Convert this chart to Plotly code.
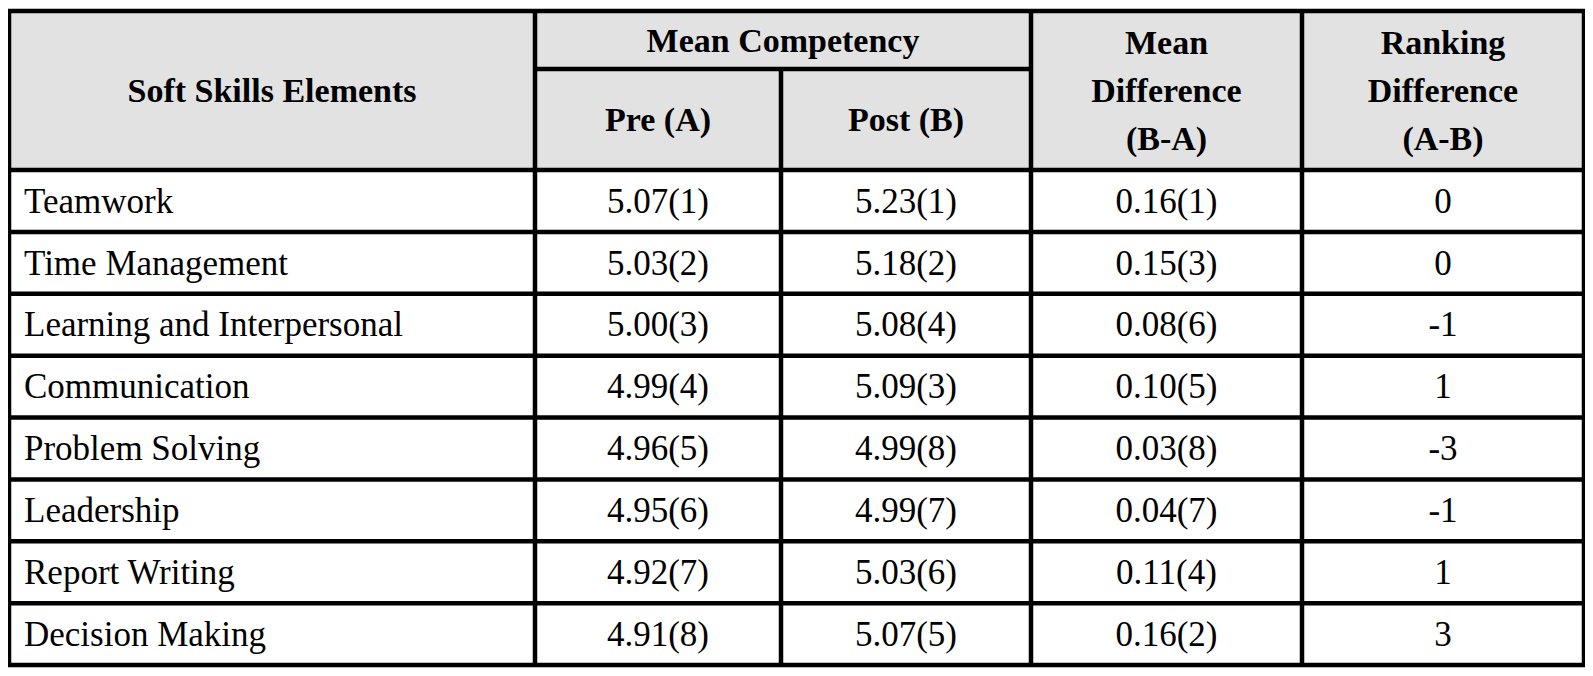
import plotly.graph_objects as go

# table data
skills = ["Teamwork", "Time Management", "Learning and Interpersonal", "Communication",
          "Problem Solving", "Leadership", "Report Writing", "Decision Making"]
pre_mean = [5.07, 5.03, 5.00, 4.99, 4.96, 4.95, 4.92, 4.91]
pre_rank = [1, 2, 3, 4, 5, 6, 7, 8]
post_mean = [5.23, 5.18, 5.08, 5.09, 4.99, 4.99, 5.03, 5.07]
post_rank = [1, 2, 4, 3, 8, 7, 6, 5]
diff_mean = [0.16, 0.15, 0.08, 0.10, 0.03, 0.04, 0.11, 0.16]
diff_rank = [1, 3, 6, 5, 8, 7, 4, 2]
rank_diff = [0, 0, -1, 1, -3, -1, 1, 3]

# layout of the grid (in page pixels)
W, H = 1593, 676
PAD = 8  # default body margin of the html page
DY = 3   # text sits a little below the cell middle
col_edges = [9, 535, 781, 1031, 1302, 1584]
top, head_mid, head_bot, bottom = 11, 69, 170, 665
row_h = (bottom - head_bot) / len(skills)
row_edges = [head_bot + i * row_h for i in range(len(skills) + 1)]
row_mid = [(row_edges[i] + row_edges[i + 1]) / 2 + DY for i in range(len(skills))]
col_mid = [(col_edges[i] + col_edges[i + 1]) / 2 for i in range(len(col_edges) - 1)]

FONT = "Liberation Serif"
body_font = dict(family=FONT, size=35, color="black")
head_font = dict(family=FONT, size=34, color="black")
LW = 4.5
line_gap = 48

fig = go.Figure()

# header background
shapes = [dict(type="rect", x0=col_edges[0], x1=col_edges[-1], y0=top, y1=head_bot,
               fillcolor="#e2e2e2", line_width=0, layer="below")]
# horizontal rules
for y in [top] + row_edges:
    shapes.append(dict(type="line", x0=col_edges[0] - LW / 2, x1=col_edges[-1] + LW / 2,
                       y0=y, y1=y, line=dict(color="black", width=LW)))
shapes.append(dict(type="line", x0=col_edges[1], x1=col_edges[3], y0=head_mid, y1=head_mid,
                   line=dict(color="black", width=LW)))
# vertical rules
for i, x in enumerate(col_edges):
    y0 = head_mid if i == 2 else top
    shapes.append(dict(type="line", x0=x, x1=x, y0=y0, y1=bottom,
                       line=dict(color="black", width=LW)))


def text_trace(xs, ys, labels, font, pos="middle center"):
    return go.Scatter(x=xs, y=ys, text=labels, mode="text", textposition=pos,
                      textfont=font, hoverinfo="skip", showlegend=False)


# header texts
head_c = (top + head_bot) / 2 + DY
fig.add_trace(text_trace([col_mid[0]], [head_c], ["<b>Soft Skills Elements</b>"], head_font))
fig.add_trace(text_trace([(col_edges[1] + col_edges[3]) / 2], [(top + head_mid) / 2 + DY],
                         ["<b>Mean Competency</b>"], head_font))
fig.add_trace(text_trace(col_mid[1:3], [(head_mid + head_bot) / 2 + DY] * 2,
                         ["<b>Pre (A)</b>", "<b>Post (B)</b>"], head_font))
for ci, lines in [(3, ["Mean", "Difference", "(B-A)"]), (4, ["Ranking", "Difference", "(A-B)"])]:
    ys = [head_c + (k - 1) * line_gap for k in range(3)]
    fig.add_trace(text_trace([col_mid[ci]] * 3, ys, ["<b>%s</b>" % s for s in lines], head_font))

# body texts
fig.add_trace(text_trace([col_edges[0] + 15] * len(skills), row_mid, skills, body_font, "middle right"))
fig.add_trace(text_trace([col_mid[1]] * len(skills), row_mid,
                         ["%.2f(%d)" % (v, r) for v, r in zip(pre_mean, pre_rank)], body_font))
fig.add_trace(text_trace([col_mid[2]] * len(skills), row_mid,
                         ["%.2f(%d)" % (v, r) for v, r in zip(post_mean, post_rank)], body_font))
fig.add_trace(text_trace([col_mid[3]] * len(skills), row_mid,
                         ["%.2f(%d)" % (v, r) for v, r in zip(diff_mean, diff_rank)], body_font))
fig.add_trace(text_trace([col_mid[4]] * len(skills), row_mid,
                         [str(v) for v in rank_diff], body_font))

# the figure sits inside the page margin, so the axes map straight to page pixels
fig.update_layout(width=W - 2 * PAD, height=H - 2 * PAD, margin=dict(l=0, r=0, t=0, b=0),
                  plot_bgcolor="white", paper_bgcolor="white", shapes=shapes,
                  xaxis=dict(range=[PAD, W - PAD], visible=False, fixedrange=True),
                  yaxis=dict(range=[H - PAD, PAD], visible=False, fixedrange=True))

fig.write_html("out.html")
